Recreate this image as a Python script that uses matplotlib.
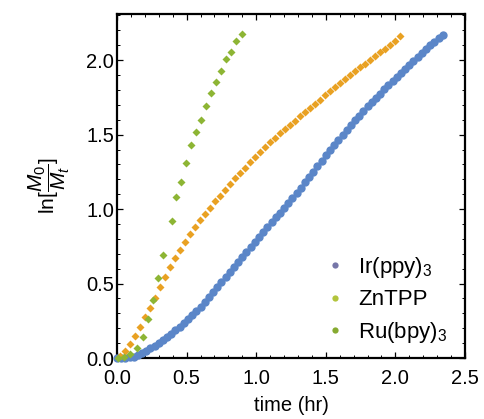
import matplotlib
matplotlib.use("Agg")
import matplotlib.pyplot as plt
from matplotlib.lines import Line2D
from matplotlib.ticker import MultipleLocator

plt.rcParams['font.family'] = ['Liberation Sans', 'DejaVu Sans']
plt.rcParams['mathtext.fontset'] = 'custom'
plt.rcParams['mathtext.rm'] = 'Liberation Sans'
plt.rcParams['mathtext.it'] = 'Liberation Sans:italic'

# ---------------- data ----------------
ir_t = [0.00, 0.03, 0.06, 0.09, 0.12, 0.15, 0.18, 0.21, 0.24, 0.27, 0.30, 0.33, 0.36, 0.39,
        0.42, 0.45, 0.48, 0.51, 0.54, 0.57, 0.60, 0.63, 0.66, 0.69, 0.72, 0.75, 0.78, 0.81,
        0.84, 0.87, 0.90, 0.93, 0.96, 0.99, 1.02, 1.05, 1.08, 1.11, 1.14, 1.17, 1.20, 1.23,
        1.26, 1.29, 1.32, 1.35, 1.38, 1.41, 1.44, 1.47, 1.50, 1.53, 1.56, 1.59, 1.62, 1.65,
        1.68, 1.71, 1.74, 1.77, 1.80, 1.83, 1.86, 1.89, 1.92, 1.95, 1.98, 2.01, 2.04, 2.07,
        2.10, 2.13, 2.16, 2.19, 2.22, 2.25, 2.28, 2.31, 2.34]
ir_v = [0.000, 0.000, 0.002, 0.004, 0.010, 0.020, 0.034, 0.050, 0.066, 0.083, 0.100, 0.120,
        0.140, 0.163, 0.186, 0.210, 0.234, 0.259, 0.287, 0.316, 0.345, 0.378, 0.411, 0.444,
        0.477, 0.510, 0.543, 0.577, 0.611, 0.646, 0.680, 0.713, 0.746, 0.779, 0.812, 0.845,
        0.878, 0.911, 0.944, 0.977, 1.010, 1.043, 1.076, 1.109, 1.144, 1.180, 1.216, 1.252,
        1.288, 1.324, 1.360, 1.395, 1.429, 1.464, 1.497, 1.530, 1.563, 1.596, 1.627, 1.659,
        1.690, 1.719, 1.747, 1.776, 1.804, 1.833, 1.861, 1.889, 1.916, 1.943, 1.970, 1.997,
        2.024, 2.051, 2.076, 2.100, 2.124, 2.148, 2.170]

zn_t = [0.020, 0.056, 0.092, 0.128, 0.164, 0.200, 0.236, 0.272, 0.308, 0.344, 0.380, 0.416,
        0.452, 0.488, 0.524, 0.560, 0.596, 0.632, 0.668, 0.704, 0.740, 0.776, 0.812, 0.848,
        0.884, 0.920, 0.956, 0.992, 1.028, 1.064, 1.100, 1.136, 1.172, 1.208, 1.244, 1.280,
        1.316, 1.352, 1.388, 1.424, 1.460, 1.496, 1.532, 1.568, 1.604, 1.640, 1.676, 1.712,
        1.748, 1.784, 1.820, 1.856, 1.892, 1.928, 1.964, 2.000, 2.036]
zn_v = [0.016, 0.050, 0.095, 0.150, 0.210, 0.272, 0.337, 0.405, 0.475, 0.545, 0.610, 0.670,
        0.728, 0.781, 0.832, 0.880, 0.924, 0.967, 1.010, 1.051, 1.090, 1.130, 1.169, 1.206,
        1.243, 1.279, 1.315, 1.350, 1.385, 1.418, 1.449, 1.479, 1.508, 1.537, 1.566, 1.594,
        1.622, 1.650, 1.678, 1.707, 1.735, 1.763, 1.791, 1.819, 1.847, 1.873, 1.899, 1.925,
        1.951, 1.977, 2.003, 2.029, 2.053, 2.078, 2.103, 2.128, 2.160]

ru_t = [0.010, 0.048, 0.095, 0.145, 0.190, 0.223, 0.259, 0.295, 0.328, 0.393, 0.424, 0.458,
        0.496, 0.532, 0.568, 0.604, 0.640, 0.676, 0.712, 0.748, 0.784, 0.820, 0.856, 0.897]
ru_v = [0.000, 0.010, 0.025, 0.067, 0.140, 0.260, 0.390, 0.540, 0.690, 0.920, 1.080, 1.180,
        1.310, 1.430, 1.520, 1.600, 1.690, 1.780, 1.855, 1.926, 2.005, 2.056, 2.130, 2.174]

labels = ['Ir(ppy)$_3$', 'ZnTPP', 'Ru(bpy)$_3$']
series_colors = ['#5B86C8', '#E9A122', '#8DB534']
legend_colors = ['#7676A8', '#B2C43C', '#86AA30']

x_ticks = [0.0, 0.5, 1.0, 1.5, 2.0, 2.5]
y_ticks = [0.0, 0.5, 1.0, 1.5, 2.0]

# ---------------- figure ----------------
fig = plt.figure(figsize=(4.85, 4.19), dpi=100)
ax = fig.add_axes([117/485, 1-358/419, (465-117)/485, (358-14)/419])

ax.plot(ir_t, ir_v, 'o', ms=6.0, color=series_colors[0], mec='none', clip_on=False, zorder=3)
ax.plot(zn_t, zn_v, 'D', ms=4.2, color=series_colors[1], mec='none', clip_on=False, zorder=4)
ax.plot(ru_t, ru_v, 'D', ms=4.3, color=series_colors[2], mec='none', clip_on=False, zorder=5)

ax.set_xlim(0, 2.5)
ax.set_ylim(0, 2.31)
ax.set_xticks(x_ticks)
ax.set_yticks(y_ticks)
ax.set_xticklabels([f'{v:.1f}' for v in x_ticks])
ax.set_yticklabels([f'{v:.1f}' for v in y_ticks])
ax.xaxis.set_minor_locator(MultipleLocator(0.1))
ax.yaxis.set_minor_locator(MultipleLocator(0.1))
ax.tick_params(which='both', direction='in', top=True, right=True, colors='black')
ax.tick_params(which='major', length=4.5, width=0.9)
ax.tick_params(which='minor', length=2.5, width=0.7)
ax.tick_params(axis='x', which='major', labelsize=14.5, pad=8)
ax.tick_params(axis='y', which='major', labelsize=14.5, pad=2)
for s in ax.spines.values():
    s.set_linewidth(1.6)

ax.set_xlabel('time (hr)', fontsize=14.5, labelpad=6)
ax.set_ylabel(r'$\mathrm{ln}[\dfrac{M_0}{M_t}]$', fontsize=15, labelpad=10)

handles = [Line2D([], [], ls='none', marker='o', ms=4.5, color=c, mec='none') for c in legend_colors]
ax.legend(handles, labels, loc='lower right', bbox_to_anchor=(0.975, 0.012), frameon=False,
          fontsize=16, handlelength=1.0, handletextpad=0.55, labelspacing=0.43,
          borderaxespad=0.0)

fig.savefig('out.png', dpi=100)
